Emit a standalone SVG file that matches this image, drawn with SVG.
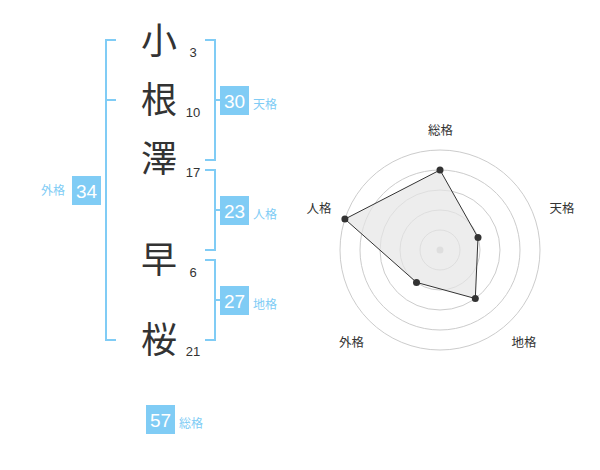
<svg xmlns="http://www.w3.org/2000/svg" width="600" height="470" viewBox="0 0 600 470">
<style>
.br{fill:none;stroke:#80ccf5;stroke-width:2}
.box{fill:#80ccf5}
.bn{font-family:"Liberation Sans",Arial,sans-serif;font-size:19px;fill:#fff;text-anchor:middle}
.bl{font-family:"Liberation Sans","Noto Sans CJK JP",sans-serif;font-size:12px;fill:#80ccf5}
.kj{font-family:"Noto Sans CJK JP",sans-serif;font-size:36px;fill:#333;text-anchor:middle}
.st{font-family:"Liberation Sans",Arial,sans-serif;font-size:13px;fill:#333;text-anchor:middle}
.ring{fill:none;stroke:#cccccc;stroke-width:1}
.rl{font-family:"Liberation Sans","Noto Sans CJK JP",sans-serif;font-size:12.5px;fill:#333;text-anchor:middle}
.pt{fill:#333}
</style>
<rect width="600" height="470" fill="#fff"/>
<g id="connectors">
<path class="br" d="M116,40 H106 V340 H116 M106,100 H116"/>
<path class="br" d="M205,40 H215 V160 H205 M215,100 H220"/>
<path class="br" d="M205,170 H215 V250 H205 M215,210 H220"/>
<path class="br" d="M205,260 H215 V340 H205 M215,300 H220"/>
</g>
<g id="char1"><text class="kj" x="159" y="54">小</text><text class="st" x="193" y="57">3</text></g>
<g id="char2"><text class="kj" x="159" y="113">根</text><text class="st" x="193" y="117">10</text></g>
<g id="char3"><text class="kj" x="159" y="172">澤</text><text class="st" x="193" y="177">17</text></g>
<g id="char4"><text class="kj" x="159" y="273">早</text><text class="st" x="193" y="277">6</text></g>
<g id="char5"><text class="kj" x="159" y="353">桜</text><text class="st" x="193" y="356">21</text></g>
<g id="tenkaku"><rect class="box" x="220" y="86" width="29" height="29"/><text class="bn" x="234.5" y="107.5">30</text><text class="bl" x="253" y="109">天格</text></g>
<g id="jinkaku"><rect class="box" x="220" y="196" width="29" height="29"/><text class="bn" x="234.5" y="217.5">23</text><text class="bl" x="253" y="219">人格</text></g>
<g id="chikaku"><rect class="box" x="220" y="286" width="29" height="29"/><text class="bn" x="234.5" y="307.5">27</text><text class="bl" x="253" y="309">地格</text></g>
<g id="gaikaku"><rect class="box" x="72" y="176" width="29" height="29"/><text class="bn" x="86.5" y="197.5">34</text><text class="bl" x="41" y="195">外格</text></g>
<g id="soukaku"><rect class="box" x="146" y="405" width="29" height="29"/><text class="bn" x="160.5" y="426.5">57</text><text class="bl" x="179" y="428">総格</text></g>
<g id="radar">
<circle class="ring" cx="440" cy="250" r="20"/>
<circle class="ring" cx="440" cy="250" r="40"/>
<circle class="ring" cx="440" cy="250" r="60"/>
<circle class="ring" cx="440" cy="250" r="80"/>
<circle class="ring" cx="440" cy="250" r="100"/>
<circle cx="440" cy="250" r="3.5" fill="#cccccc"/>
<polygon points="440,170 478,237.6 475.3,298.5 416.5,282.4 344.9,219.1" fill="#e6e6e6" fill-opacity="0.7" stroke="#333" stroke-width="1"/>
<circle class="pt" cx="440" cy="170" r="3.5"/>
<circle class="pt" cx="478" cy="237.6" r="3.5"/>
<circle class="pt" cx="475.3" cy="298.5" r="3.5"/>
<circle class="pt" cx="416.5" cy="282.4" r="3.5"/>
<circle class="pt" cx="344.9" cy="219.1" r="3.5"/>
<text class="rl" x="440.5" y="135">総格</text>
<text class="rl" x="562" y="213">天格</text>
<text class="rl" x="524" y="347">地格</text>
<text class="rl" x="351.5" y="347">外格</text>
<text class="rl" x="319" y="213">人格</text>
</g>
</svg>
